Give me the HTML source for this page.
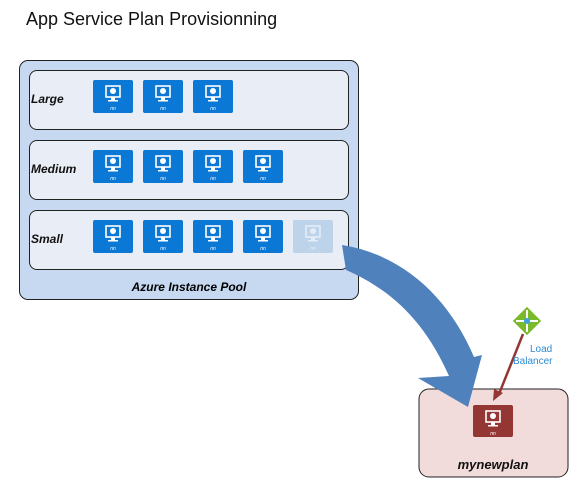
<!DOCTYPE html>
<html><head><style>
body{margin:0;width:587px;height:493px;background:#fff;position:relative;font-family:"Liberation Sans",Calibri,sans-serif;overflow:hidden}
.a{position:absolute}
.row{position:absolute;left:29px;width:318px;height:58px;background:#e9edf5;border:1px solid #222;border-radius:8px}
.lbl{position:absolute;left:31px;font-size:12px;font-weight:bold;font-style:italic;color:#111}
</style></head><body>
<div class="a" style="left:26px;top:9px;font-size:18px;color:#111">App Service Plan Provisionning</div>
<div class="a" style="left:19px;top:60px;width:338px;height:238px;background:#c6d9f1;border:1px solid #222;border-radius:9px"></div>
<div class="row" style="top:70px"></div>
<div class="row" style="top:140px"></div>
<div class="row" style="top:210px"></div>
<div class="lbl" style="top:92px">Large</div>
<div class="lbl" style="top:162px">Medium</div>
<div class="lbl" style="top:232px">Small</div>
<div class="a" style="left:19px;top:280px;width:340px;text-align:center;font-size:12px;font-weight:bold;font-style:italic">Azure Instance Pool</div>
<svg class="a" style="left:0;top:0" width="587" height="493">
<defs><g id="ic"><rect x="13" y="6" width="14" height="11" fill="none" stroke="#fff" stroke-width="1.6"/><circle cx="20" cy="11" r="3" fill="#fff"/><rect x="18" y="17" width="4" height="3" fill="#fff"/><rect x="15" y="20" width="10" height="1.5" fill="#fff"/><text x="20" y="30" font-size="5" fill="#fff" text-anchor="middle" font-style="italic">nn</text></g></defs>
<g fill="#0a78d4">
<rect x="93" y="80" width="40" height="33" rx="2"/><rect x="143" y="80" width="40" height="33" rx="2"/><rect x="193" y="80" width="40" height="33" rx="2"/>
<rect x="93" y="150" width="40" height="33" rx="2"/><rect x="143" y="150" width="40" height="33" rx="2"/><rect x="193" y="150" width="40" height="33" rx="2"/><rect x="243" y="150" width="40" height="33" rx="2"/>
<rect x="93" y="220" width="40" height="33" rx="2"/><rect x="143" y="220" width="40" height="33" rx="2"/><rect x="193" y="220" width="40" height="33" rx="2"/><rect x="243" y="220" width="40" height="33" rx="2"/>
</g>
<rect x="293" y="220" width="40" height="33" rx="2" fill="#bcd3ea"/>
<use href="#ic" x="93" y="80"/><use href="#ic" x="143" y="80"/><use href="#ic" x="193" y="80"/>
<use href="#ic" x="93" y="150"/><use href="#ic" x="143" y="150"/><use href="#ic" x="193" y="150"/><use href="#ic" x="243" y="150"/>
<use href="#ic" x="93" y="220"/><use href="#ic" x="143" y="220"/><use href="#ic" x="193" y="220"/><use href="#ic" x="243" y="220"/>
<g opacity="0.6"><use href="#ic" x="293" y="220"/></g>
<rect x="419" y="389" width="149" height="88" rx="10" fill="#f2dcdb" stroke="#222"/>
<text x="493" y="469" font-size="13" font-weight="bold" font-style="italic" text-anchor="middle" fill="#111">mynewplan</text>
<rect x="473" y="405" width="40" height="32" rx="2" fill="#943634"/>
<use href="#ic" x="473" y="405"/>
<path d="M342 245 C405 255 450 300 474 357 L482 355 L468 407 L418 378 L449 376 C425 322 392 290 346 270 Z" fill="#4f81bd"/>
<line x1="523" y1="334" x2="499" y2="394" stroke="#943634" stroke-width="2.5"/>
<path d="M493 401 L494 389 L503 393 Z" fill="#943634"/>
<rect x="517" y="311" width="20" height="20" fill="#7ab929" transform="rotate(45 527 321)"/>
<path d="M527 310 V332 M516 321 H538" stroke="#fff" stroke-width="2"/>
<circle cx="527" cy="321" r="3" fill="#3ca0e0"/>
<text x="530" y="352" font-size="10" fill="#2e8bd0">Load</text>
<text x="513" y="364" font-size="10" fill="#2e8bd0">Balancer</text>
</svg>
</body></html>
